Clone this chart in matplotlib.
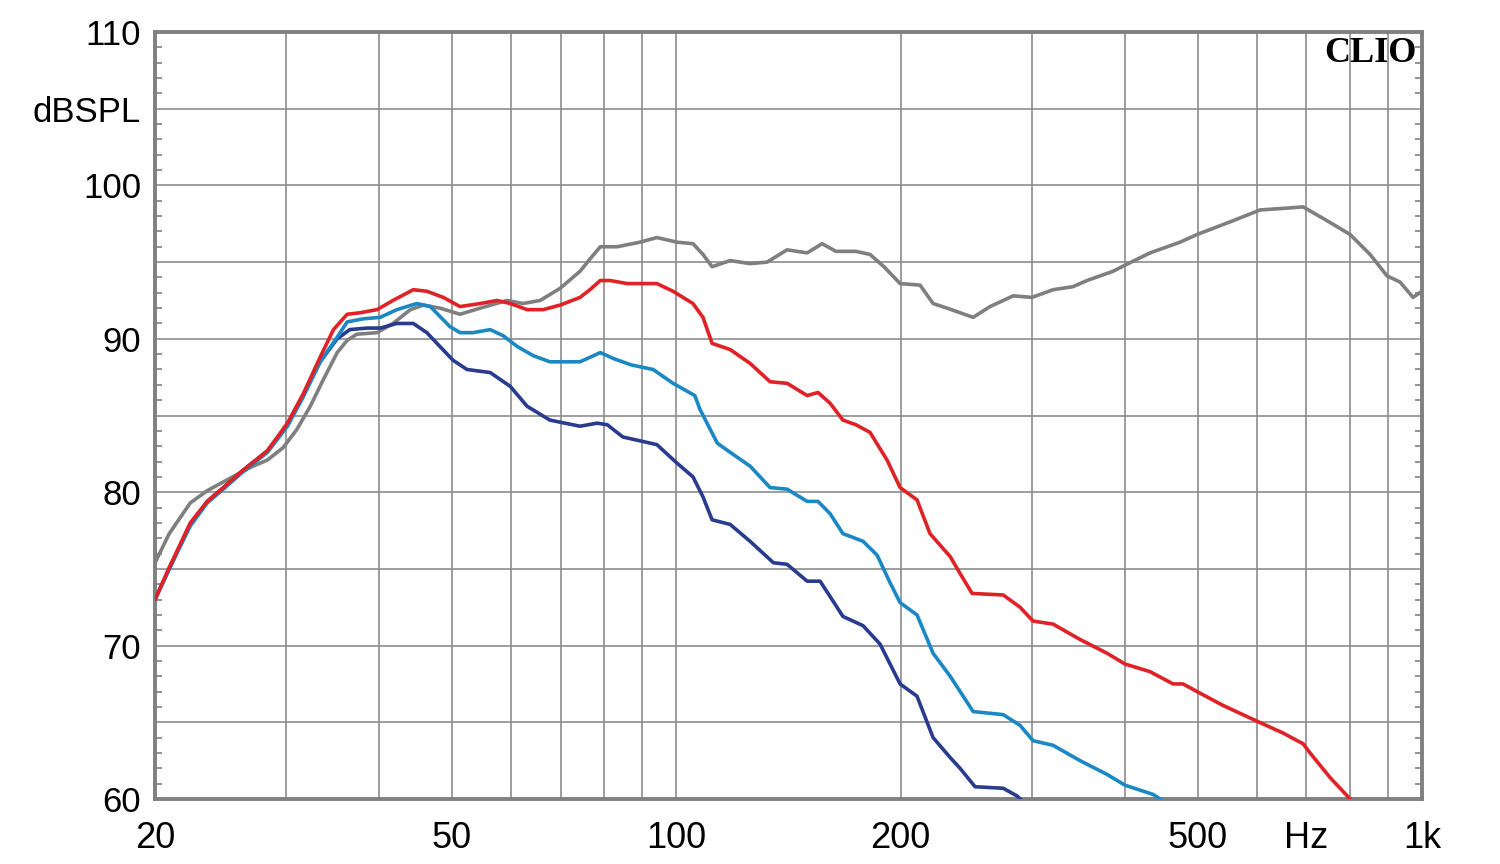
import matplotlib
matplotlib.use("Agg")
import matplotlib.pyplot as plt
import numpy as np

# ---- data (Hz, dB SPL) ----
gray_f = [20.0, 20.9, 22.3, 23.5, 25.2, 26.8, 28.3, 29.7, 31.0, 32.3, 33.6, 35.1, 36.2, 37.3, 39.7,
          41.7, 44.0, 45.8, 48.2, 51.3, 54.6, 59.3, 62.3, 65.7, 69.9, 74.3, 76.6, 79.1, 83.3, 89.4,
          94.2, 100.2, 105.3, 108.6, 111.7, 118.1, 125.6, 132.4, 140.8, 149.8, 156.9, 163.7, 174.1,
          181.9, 189.9, 199.6, 212.3, 221.0, 230.7, 240.2, 250.1, 263.5, 283.0, 300.0, 320.1, 340.5,
          355.5, 385.2, 399.7, 431.9, 473.8, 499.4, 558.2, 606.5, 651.1, 692.7, 745.8, 801.0, 851.9,
          897.7, 934.5, 972.8, 1000.0]
gray_db = [75.4, 77.3, 79.3, 80.1, 80.9, 81.6, 82.1, 82.9, 84.1, 85.6, 87.3, 89.1, 89.9, 90.3, 90.4,
           91.0, 91.9, 92.2, 92.0, 91.6, 92.0, 92.5, 92.3, 92.5, 93.3, 94.4, 95.2, 96.0, 96.0, 96.3,
           96.6, 96.3, 96.2, 95.5, 94.7, 95.1, 94.9, 95.0, 95.8, 95.6, 96.2, 95.7, 95.7,
           95.5, 94.7, 93.6, 93.5, 92.3, 92.0, 91.7, 91.4, 92.1, 92.8, 92.7, 93.2, 93.4,
           93.8, 94.4, 94.8, 95.6, 96.3, 96.8, 97.7, 98.4, 98.5, 98.6, 97.7, 96.8, 95.5,
           94.1, 93.7, 92.7, 93.1]

red_f = [20.0, 20.9, 22.3, 23.5, 24.7, 26.2, 28.3, 30.1, 31.6, 33.3, 34.7, 36.2, 37.7, 39.7, 41.7,
         44.4, 46.3, 48.7, 51.3, 54.6, 57.5, 59.9, 63.1, 66.3, 69.9, 74.3, 76.6, 79.1, 81.5, 85.9,
         94.2, 99.0, 105.3, 108.6, 111.7, 118.1, 125.6, 133.6, 140.8, 149.8, 154.9, 160.8, 167.3,
         174.1, 181.9, 191.7, 199.6, 210.3, 218.9, 233.0, 240.2, 249.3, 274.4, 289.1, 300.9, 320.1,
         347.9, 378.2, 399.7, 431.9, 463.7, 478.2, 499.4, 541.0, 599.0, 651.1, 692.7, 707.8, 752.8,
         801.0, 830.0]
red_db = [73.0, 75.1, 78.0, 79.4, 80.3, 81.4, 82.7, 84.5, 86.4, 88.8, 90.6, 91.6, 91.7, 91.9, 92.5,
          93.2, 93.1, 92.7, 92.1, 92.3, 92.5, 92.3, 91.9, 91.9, 92.2, 92.7, 93.2, 93.8, 93.8, 93.6,
          93.6, 93.1, 92.3, 91.4, 89.7, 89.3, 88.4, 87.2, 87.1, 86.3, 86.5, 85.8, 84.7,
          84.4, 83.9, 82.1, 80.3, 79.5, 77.3, 75.8, 74.7, 73.4, 73.3, 72.5, 71.6, 71.4,
          70.4, 69.5, 68.8, 68.3, 67.5, 67.5, 67.0, 66.1, 65.1, 64.3, 63.6, 63.0, 61.4,
          60.0, 59.0]

lblue_f = [20.0, 20.9, 22.3, 23.5, 24.7, 26.2, 28.3, 30.1, 31.6, 33.3, 35.1, 36.2, 38.0, 40.1, 42.2,
           44.9, 46.8, 49.7, 51.3, 53.4, 56.3, 58.6, 61.2, 64.3, 67.7, 74.3, 79.1, 82.5, 87.0, 93.1,
           99.0, 105.9, 107.6, 113.5, 118.1, 125.6, 133.6, 140.8, 149.8, 154.9, 160.8, 167.3, 178.0,
           185.9, 193.5, 199.6, 210.3, 221.0, 233.0, 250.1, 274.4, 289.1, 300.9, 320.1, 347.9, 378.2,
           399.7, 435.8, 452.2]
lblue_db = [73.0, 75.0, 77.8, 79.3, 80.2, 81.3, 82.6, 84.3, 86.2, 88.5, 90.1, 91.1, 91.3, 91.4, 91.9,
            92.3, 92.1, 90.8, 90.4, 90.4, 90.6, 90.2, 89.5, 88.9, 88.5, 88.5, 89.1, 88.7, 88.3, 88.0,
            87.1, 86.3, 85.4, 83.2, 82.6, 81.7, 80.3, 80.2, 79.4, 79.4, 78.6, 77.3, 76.8,
            75.9, 74.1, 72.8, 72.0, 69.5, 68.0, 65.7, 65.5, 64.8, 63.8, 63.5, 62.5, 61.6,
            60.9, 60.3, 59.8]

dblue_f = [20.0, 20.9, 22.3, 23.5, 24.7, 26.2, 28.3, 30.1, 31.6, 33.3, 35.1, 36.5, 38.5, 40.1, 42.2,
           44.4, 46.3, 48.2, 50.2, 52.4, 56.3, 59.9, 63.1, 67.7, 74.3, 78.3, 80.8, 84.8, 94.2, 100.2,
           105.3, 108.6, 111.7, 118.1, 125.6, 135.0, 140.8, 149.8, 155.9, 160.8, 167.3, 178.0, 187.6,
           199.6, 210.3, 221.0, 233.0, 240.2, 251.6, 274.4, 286.4, 293.6]
dblue_db = [73.0, 75.0, 77.9, 79.4, 80.3, 81.4, 82.7, 84.4, 86.3, 88.5, 90.0, 90.6, 90.7, 90.7, 91.0,
            91.0, 90.4, 89.5, 88.6, 88.0, 87.8, 86.9, 85.6, 84.7, 84.3, 84.5, 84.4, 83.6, 83.1, 81.9,
            81.0, 79.7, 78.2, 77.9, 76.8, 75.4, 75.3, 74.2, 74.2, 73.2, 71.9, 71.3, 70.1,
            67.5, 66.7, 64.0, 62.7, 62.0, 60.8, 60.7, 60.2, 59.7]

x_grid = [20, 30, 40, 50, 60, 70, 80, 90, 100, 200, 300, 400, 500, 600, 700, 800, 900, 1000]
x_labels = {20: "20", 50: "50", 100: "100", 200: "200", 500: "500", 700: "Hz", 1000: "1k"}
y_grid = [60, 65, 70, 75, 80, 85, 90, 95, 100, 105, 110]
y_labels = {60: "60", 70: "70", 80: "80", 90: "90", 100: "100", 105: "dBSPL", 110: "110"}

# ---- figure ----
fig = plt.figure(figsize=(15, 8.64), dpi=100)
ax = fig.add_axes([155 / 1500, 1 - 799 / 864, (1422 - 155) / 1500, (799 - 32) / 864])

lw = 2.6
kw = dict(lw=lw, solid_joinstyle="round", solid_capstyle="round")
ax.plot(gray_f, gray_db, color="#7f7f7f", zorder=3, **kw)
ax.plot(dblue_f, dblue_db, color="#283b8e", zorder=4, **kw)
ax.plot(lblue_f, lblue_db, color="#1a88c4", zorder=5, **kw)
ax.plot(red_f, red_db, color="#e02226", zorder=6, **kw)

ax.set_xscale("log")
ax.set_xlim(20, 1000)
ax.set_ylim(60, 110)

ax.set_xticks(x_grid)
ax.set_xticklabels([x_labels.get(v, "") for v in x_grid])
ax.xaxis.set_minor_locator(matplotlib.ticker.NullLocator())
ax.set_yticks(y_grid)
ax.set_yticklabels([y_labels.get(v, "") for v in y_grid])
ax.set_yticks(np.arange(60, 111, 1), minor=True)

ax.grid(True, which="major", color="#8c8c8c", lw=1.2, zorder=1)
ax.set_axisbelow(True)

ax.tick_params(axis="x", which="major", length=0, pad=16, labelsize=26)
for t in ax.get_xticklabels():
    t.set_family(["Liberation Sans Narrow", "Liberation Sans", "DejaVu Sans"])
ax.tick_params(axis="y", which="major", length=0, pad=10, labelsize=25)
for t in ax.get_yticklabels():
    t.set_family(["Liberation Sans", "DejaVu Sans"])
ax.tick_params(axis="y", which="minor", direction="in", length=5, width=1.2,
               color="#808080", left=True, right=True)

for s in ax.spines.values():
    s.set_color("#808080")
    s.set_linewidth(2.8)

ax.text(0.996, 0.994, "CLIO", transform=ax.transAxes, ha="right", va="top",
        fontsize=26, fontweight="bold", family=["Liberation Serif", "DejaVu Serif"],
        color="black", zorder=10)

fig.savefig("out.png", dpi=100, facecolor="white")
